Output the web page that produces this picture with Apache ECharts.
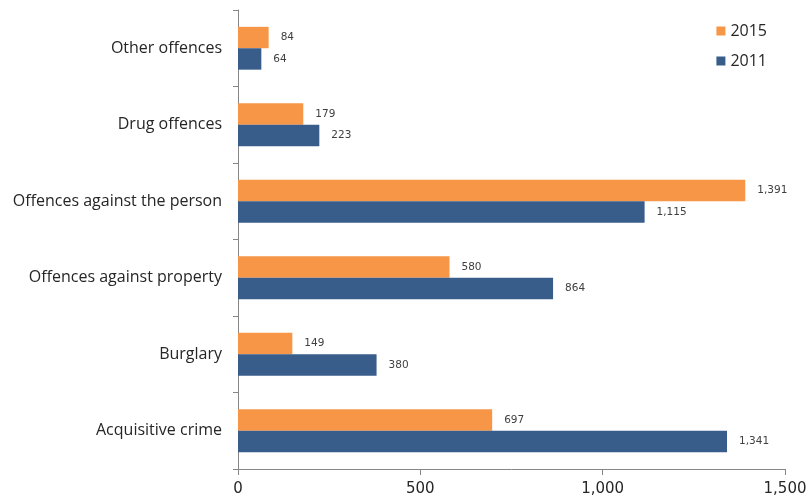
<!DOCTYPE html>
<html>
<head>
<meta charset="utf-8">
<script src="https://cdn.jsdelivr.net/npm/echarts@6/dist/echarts.min.js"></script>
<style>
  html, body { margin: 0; padding: 0; background: #fff; }
  #chart { width: 810px; height: 499px; }
</style>
</head>
<body>
<div id="chart"></div>
<script>
// 类别 (自下而上)
const categories = ['Acquisitive crime', 'Burglary', 'Offences against property', 'Offences against the person', 'Drug offences', 'Other offences'];
const values2015 = [697, 149, 580, 1391, 179, 84];
const values2011 = [1341, 380, 864, 1115, 223, 64];
const xTicks = [0, 500, 1000, 1500];

const fmt = v => Number(v).toLocaleString('en-US');

const chart = echarts.init(document.getElementById('chart'));

const labelStyle = {
    show: true,
    position: 'right',
    distance: 12,
    fontFamily: 'Verdana, DejaVu Sans, sans-serif',
    fontSize: 10.5,
    color: '#404040',
    formatter: p => fmt(p.value)
};

chart.setOption({
    animation: false,
    grid: { left: 238, right: 25, top: 10, bottom: 30 },
    legend: {
        data: ['2015', '2011'],
        orient: 'vertical',
        right: 38,
        top: 18,
        icon: 'rect',
        itemWidth: 9,
        itemHeight: 9,
        itemGap: 14,
        textStyle: { fontFamily: 'Open Sans, sans-serif', fontSize: 16, color: '#262626' }
    },
    xAxis: {
        type: 'value',
        min: xTicks[0],
        max: xTicks[xTicks.length - 1],
        interval: 500,
        axisLine: { show: true, lineStyle: { color: '#868686' } },
        axisTick: { show: true, length: 6, lineStyle: { color: '#868686' } },
        splitLine: { show: false },
        axisLabel: {
            fontFamily: 'Verdana, DejaVu Sans, sans-serif',
            fontSize: 15,
            color: '#262626',
            margin: 13,
            formatter: v => fmt(v)
        }
    },
    yAxis: {
        type: 'category',
        data: categories,
        axisLine: { show: true, lineStyle: { color: '#868686' } },
        axisTick: { show: true, length: 5, lineStyle: { color: '#868686' } },
        axisLabel: {
            fontFamily: 'Open Sans, sans-serif',
            fontSize: 16,
            color: '#262626',
            margin: 16
        }
    },
    series: [
        {
            name: '2015',
            type: 'bar',
            data: values2015,
            barGap: '0%',
            barCategoryGap: '44%',
            itemStyle: { color: '#F79646' },
            label: labelStyle
        },
        {
            name: '2011',
            type: 'bar',
            data: values2011,
            itemStyle: { color: '#385D8A' },
            label: labelStyle
        }
    ]
});
</script>
</body>
</html>
